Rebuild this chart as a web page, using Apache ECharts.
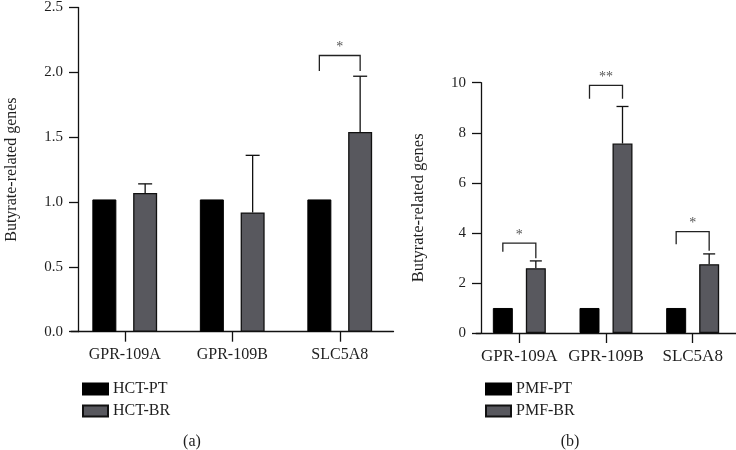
<!DOCTYPE html>
<html>
<head>
<meta charset="utf-8">
<script src="https://cdn.jsdelivr.net/npm/echarts@6/dist/echarts.min.js"></script>
<style>html,body{margin:0;padding:0;background:#fff}#c{width:736px;height:450px}</style>
</head>
<body>
<div id="c"></div>
<script>
// ---- data ----
const categories = ['GPR-109A', 'GPR-109B', 'SLC5A8'];
const hctPT = [1.02, 1.02, 1.02];
const hctBR = [1.07, 0.92, 1.54];
const hctBRErrTop = [1.14, 1.36, 1.97];
const pmfPT = [1.0, 1.0, 1.0];
const pmfBR = [2.59, 7.57, 2.75];
const pmfBRErrTop = [2.88, 9.05, 3.16];
// significance brackets: category index, left leg bottom, right leg bottom, bracket top, label
const hctSigCat = [2];
const hctSigLeft = [2.01];
const hctSigRight = [2.01];
const hctSigTop = [2.13];
const hctSigLabel = ['*'];
const pmfSigCat = [0, 1, 2];
const pmfSigLeft = [3.25, 9.36, 3.55];
const pmfSigRight = [2.99, 9.36, 3.29];
const pmfSigTop = [3.59, 9.89, 4.05];
const pmfSigLabel = ['*', '**', '*'];
const hctYTicks = {min: 0, max: 2.5, interval: 0.5};
const pmfYTicks = {min: 0, max: 10, interval: 2};
const panelLabels = ['(a)', '(b)'];
const yName = 'Butyrate-related genes';

// ---- styles ----
const FONT = '"Liberation Serif", "Times New Roman", serif';
const TXT = '#1e1e1e';
const GRAY = '#58585e';
const LW = 1.3;
const leftBarW = 24, leftGap = 0.7;
const rightBarW = 20, rightGap = 0.65;
const leftOff = leftBarW * (1 + leftGap) / 2;
const rightOff = rightBarW * (1 + rightGap) / 2;

function errRender(off, capW) {
  return function (params, api) {
    const c = api.value(0);
    const p0 = api.coord([c, api.value(1)]);
    const p1 = api.coord([c, api.value(2)]);
    const x = p0[0] + off;
    return {
      type: 'group',
      children: [
        {type: 'line', shape: {x1: x, y1: p0[1], x2: x, y2: p1[1]}, style: {stroke: '#111', lineWidth: LW}},
        {type: 'line', shape: {x1: x - capW / 2, y1: p1[1], x2: x + capW / 2, y2: p1[1]}, style: {stroke: '#111', lineWidth: LW}}
      ]
    };
  };
}
function sigRender(off, labels) {
  return function (params, api) {
    const c = api.value(0);
    const pl = api.coord([c, api.value(1)]);
    const pr = api.coord([c, api.value(2)]);
    const pt = api.coord([c, api.value(3)]);
    const xl = pl[0] - off, xr = pr[0] + off;
    return {
      type: 'group',
      children: [
        {type: 'polyline', shape: {points: [[xl, pl[1]], [xl, pt[1]], [xr, pt[1]], [xr, pr[1]]]},
         style: {stroke: '#222', lineWidth: LW, fill: null}},
        {type: 'text', x: (xl + xr) / 2, y: pt[1] - 8,
         style: {text: labels[params.dataIndex], fontFamily: FONT, fontSize: 14, fill: '#555', align: 'center', verticalAlign: 'middle'}}
      ]
    };
  };
}

const axisLineStyle = {lineStyle: {color: '#111', width: LW}};
function yAxis(gridIndex, ticks, offset, gap, fmt, nameSize) {
  return {
    type: 'value', gridIndex: gridIndex, min: ticks.min, max: ticks.max, interval: ticks.interval,
    offset: offset,
    name: yName, nameLocation: 'middle', nameGap: gap, nameRotate: 90,
    nameTextStyle: {fontFamily: FONT, fontSize: nameSize, color: TXT},
    axisLine: Object.assign({show: true}, axisLineStyle),
    axisTick: {show: true, length: 9, lineStyle: {color: '#111', width: LW}},
    axisLabel: {fontFamily: FONT, fontSize: 15, color: TXT, margin: 15, formatter: fmt},
    splitLine: {show: false}
  };
}
function xAxis(gridIndex, size) {
  return {
    type: 'category', gridIndex: gridIndex, data: categories, boundaryGap: true,
    axisLine: axisLineStyle,
    axisTick: {show: true, alignWithLabel: true, interval: 0, length: 10, lineStyle: {color: '#111', width: LW}},
    axisLabel: {fontFamily: FONT, fontSize: size, color: TXT, margin: 15, interval: 0, hideOverlap: false}
  };
}

const chart = echarts.init(document.getElementById('c'), null, {renderer: 'canvas'});
chart.setOption({
  animation: false,
  backgroundColor: '#fff',
  grid: [
    {left: 71, top: 6, width: 322.5, height: 325.7},
    {left: 476, top: 82.7, width: 264.6, height: 250.3}
  ],
  xAxis: [xAxis(0, 16), xAxis(1, 17)],
  yAxis: [
    yAxis(0, hctYTicks, -7, 58, v => v.toFixed(1), 16),
    yAxis(1, pmfYTicks, -5, 54, v => String(v), 16.5)
  ],
  legend: [
    {data: ['HCT-PT', 'HCT-BR'], orient: 'vertical', left: 77, top: 376, itemWidth: 25, itemHeight: 11, itemGap: 6,
     textStyle: {fontFamily: FONT, fontSize: 16, color: TXT}, selectedMode: false, icon: 'rect'},
    {data: ['PMF-PT', 'PMF-BR'], orient: 'vertical', left: 480, top: 376, itemWidth: 25, itemHeight: 11, itemGap: 6,
     textStyle: {fontFamily: FONT, fontSize: 16, color: TXT}, selectedMode: false, icon: 'rect'}
  ],
  graphic: [
    {type: 'text', x: 192, y: 442, style: {text: panelLabels[0], fontFamily: FONT, fontSize: 16, fill: TXT, align: 'center', verticalAlign: 'middle'}},
    {type: 'text', x: 570, y: 442, style: {text: panelLabels[1], fontFamily: FONT, fontSize: 16, fill: TXT, align: 'center', verticalAlign: 'middle'}}
  ],
  series: [
    {name: 'HCT-PT', type: 'bar', xAxisIndex: 0, yAxisIndex: 0, data: hctPT, barWidth: leftBarW, barGap: (leftGap * 100) + '%',
     itemStyle: {color: '#000', borderColor: '#000', borderWidth: 1}},
    {name: 'HCT-BR', type: 'bar', xAxisIndex: 0, yAxisIndex: 0, data: hctBR, barWidth: leftBarW, barGap: (leftGap * 100) + '%',
     itemStyle: {color: GRAY, borderColor: '#111', borderWidth: LW}},
    {name: 'PMF-PT', type: 'bar', xAxisIndex: 1, yAxisIndex: 1, data: pmfPT, barWidth: rightBarW, barGap: (rightGap * 100) + '%',
     itemStyle: {color: '#000', borderColor: '#000', borderWidth: 1}},
    {name: 'PMF-BR', type: 'bar', xAxisIndex: 1, yAxisIndex: 1, data: pmfBR, barWidth: rightBarW, barGap: (rightGap * 100) + '%',
     itemStyle: {color: GRAY, borderColor: '#111', borderWidth: LW}},
    {type: 'custom', xAxisIndex: 0, yAxisIndex: 0, renderItem: errRender(leftOff, 14),
     data: categories.map((c, i) => [i, hctBR[i], hctBRErrTop[i]]), encode: {x: 0, y: [1, 2]}, z: 1},
    {type: 'custom', xAxisIndex: 1, yAxisIndex: 1, renderItem: errRender(rightOff, 12),
     data: categories.map((c, i) => [i, pmfBR[i], pmfBRErrTop[i]]), encode: {x: 0, y: [1, 2]}, z: 1},
    {type: 'custom', xAxisIndex: 0, yAxisIndex: 0, renderItem: sigRender(leftOff, hctSigLabel),
     data: hctSigCat.map((c, i) => [c, hctSigLeft[i], hctSigRight[i], hctSigTop[i]]), encode: {x: 0, y: [1, 2, 3]}},
    {type: 'custom', xAxisIndex: 1, yAxisIndex: 1, renderItem: sigRender(rightOff, pmfSigLabel),
     data: pmfSigCat.map((c, i) => [c, pmfSigLeft[i], pmfSigRight[i], pmfSigTop[i]]), encode: {x: 0, y: [1, 2, 3]}}
  ]
});
</script>
</body>
</html>
